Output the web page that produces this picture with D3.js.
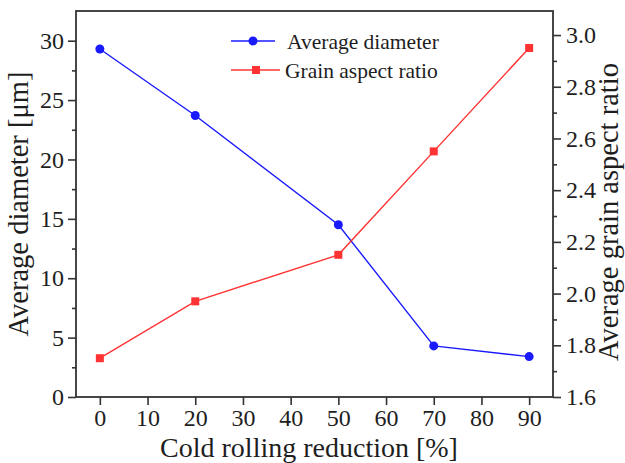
<!DOCTYPE html>
<html>
<head>
<meta charset="utf-8">
<script src="https://cdn.jsdelivr.net/npm/d3@7"></script>
<style>
  html, body { margin: 0; padding: 0; background: #fff; }
  svg { display: block; }
</style>
</head>
<body>
<svg id="chart" width="625" height="463"></svg>
<script>
// Cold rolling reduction (%)
const reduction = [0, 20, 50, 70, 90];
// Average grain diameter (µm), left axis
const avgDiameter = [29.3, 23.7, 14.5, 4.3, 3.4];
// Average grain aspect ratio, right axis
const aspectRatio = [1.75, 1.97, 2.15, 2.55, 2.95];

const xTicks = [0, 10, 20, 30, 40, 50, 60, 70, 80, 90];
const leftTicks = [0, 5, 10, 15, 20, 25, 30];
const leftMinor = [2.5, 7.5, 12.5, 17.5, 22.5, 27.5];
const rightTicks = [1.6, 1.8, 2.0, 2.2, 2.4, 2.6, 2.8, 3.0];
const rightMinor = [1.7, 1.9, 2.1, 2.3, 2.5, 2.7, 2.9];

const seriesNames = ["Average diameter", "Grain aspect ratio"];

const FONT = "'Liberation Serif', 'Times New Roman', serif";
const svg = d3.select("#chart").style("font-family", FONT);
const plot = { left: 76, right: 553, top: 11, bottom: 397 };
const axisColor = "#333";
const textColor = "#1e1e1e";

const x = d3.scaleLinear().domain([-5, 95]).range([plot.left, plot.right]);
const yL = d3.scaleLinear().domain([0, 32.5]).range([plot.bottom, plot.top]);
const yR = d3.scaleLinear().domain([1.6, 3.093]).range([plot.bottom, plot.top]);

// frame
svg.append("rect")
  .attr("x", plot.left).attr("y", plot.top)
  .attr("width", plot.right - plot.left).attr("height", plot.bottom - plot.top)
  .attr("fill", "none").attr("stroke", axisColor).attr("stroke-width", 1.8);

function styleAxis(g) {
  g.attr("font-family", null).attr("font-size", null);
  g.select(".domain").remove();
  g.selectAll(".tick line").attr("stroke", axisColor).attr("stroke-width", 1.6);
  g.selectAll(".tick text")
    .style("font-family", FONT).style("font-size", "24px").attr("fill", textColor);
}

// bottom axis
svg.append("g")
  .attr("transform", `translate(0,${plot.bottom})`)
  .call(d3.axisBottom(x).tickValues(xTicks).tickSize(8).tickPadding(4).tickFormat(d3.format("d")))
  .call(styleAxis);

// left axis (major + minor)
svg.append("g")
  .attr("transform", `translate(${plot.left},0)`)
  .call(d3.axisLeft(yL).tickValues(leftTicks).tickSize(8).tickPadding(4).tickFormat(d3.format("d")))
  .call(styleAxis);
svg.append("g")
  .attr("transform", `translate(${plot.left},0)`)
  .call(d3.axisLeft(yL).tickValues(leftMinor).tickSize(4).tickFormat(""))
  .call(styleAxis);

// right axis (major + minor)
svg.append("g")
  .attr("transform", `translate(${plot.right},0)`)
  .call(d3.axisRight(yR).tickValues(rightTicks).tickSize(8).tickPadding(5).tickFormat(d3.format(".1f")))
  .call(styleAxis);
svg.append("g")
  .attr("transform", `translate(${plot.right},0)`)
  .call(d3.axisRight(yR).tickValues(rightMinor).tickSize(4).tickFormat(""))
  .call(styleAxis);

// axis titles
function title(tf, str, size) {
  svg.append("text")
    .attr("transform", tf)
    .attr("text-anchor", "middle")
    .style("font-family", FONT).style("font-size", size + "px").attr("fill", textColor)
    .text(str);
}
title(`translate(309,456.5)`, "Cold rolling reduction [%]", 28);
title(`translate(28,204) rotate(-90)`, "Average diameter [\u03bcm]", 28.5);
title(`translate(618,212) rotate(-90)`, "Average grain aspect ratio", 28.5);

const blue = "#1a1aff";
const red = "#ff3333";

// diameter series
const lineL = d3.line().x((d, i) => x(reduction[i])).y(d => yL(d));
svg.append("path").datum(avgDiameter)
  .attr("d", lineL).attr("fill", "none").attr("stroke", blue).attr("stroke-width", 1.4);
svg.selectAll(".dot").data(avgDiameter).enter().append("circle")
  .attr("cx", (d, i) => x(reduction[i])).attr("cy", d => yL(d))
  .attr("r", 4.5).attr("fill", blue);

// aspect ratio series
const lineR = d3.line().x((d, i) => x(reduction[i])).y(d => yR(d));
svg.append("path").datum(aspectRatio)
  .attr("d", lineR).attr("fill", "none").attr("stroke", red).attr("stroke-width", 1.4);
svg.selectAll(".sq").data(aspectRatio).enter().append("rect")
  .attr("x", (d, i) => x(reduction[i]) - 4).attr("y", d => yR(d) - 4)
  .attr("width", 8).attr("height", 8).attr("fill", red);

// legend
const legend = svg.append("g");
const legendRows = [
  { name: seriesNames[0], color: blue, shape: "circle", y: 41, x2: 275, mx: 253, tx: 287 },
  { name: seriesNames[1], color: red, shape: "square", y: 70, x2: 280, mx: 256, tx: 285 }
];
legendRows.forEach(r => {
  legend.append("line").attr("x1", 231).attr("x2", r.x2)
    .attr("y1", r.y).attr("y2", r.y).attr("stroke", r.color).attr("stroke-width", 1.4);
  if (r.shape === "circle") {
    legend.append("circle").attr("cx", r.mx).attr("cy", r.y).attr("r", 4.5).attr("fill", r.color);
  } else {
    legend.append("rect").attr("x", r.mx - 4).attr("y", r.y - 4).attr("width", 8).attr("height", 8).attr("fill", r.color);
  }
  legend.append("text").attr("x", r.tx).attr("y", r.y + 7.5)
    .style("font-family", FONT).style("font-size", "21.5px").attr("fill", textColor)
    .text(r.name);
});
</script>
</body>
</html>
